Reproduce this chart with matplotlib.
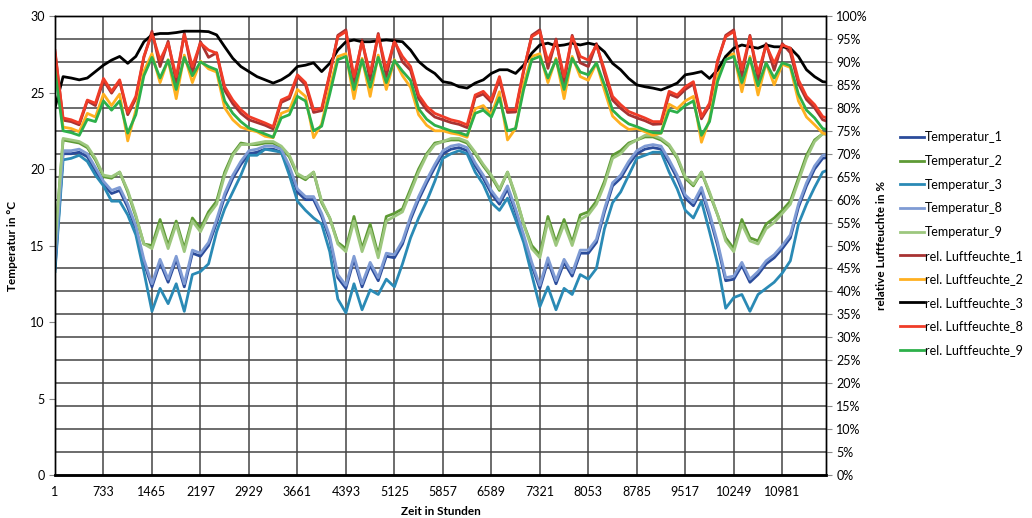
import numpy as np
import matplotlib
matplotlib.use("Agg")
import matplotlib.pyplot as plt
from matplotlib.ticker import FuncFormatter

plt.rcParams['font.family'] = ['Lato', 'DejaVu Sans']

# Zeitachse: ein Wert alle 122 Stunden
stunden = np.arange(1, 11714, 122)

# Temperaturen in °C
temp_9 = [15.0, 22.0, 21.9, 21.8, 21.5, 20.7, 19.6, 19.5, 19.8, 18.6, 17.0, 15.1, 14.8, 16.4, 14.8, 16.4, 14.6, 16.6, 15.9, 17.0, 17.7, 19.6, 20.9, 21.6,
          21.6, 21.7, 21.8, 21.8, 21.5, 20.9, 19.7, 19.4, 19.8, 17.9, 16.8, 15.1, 14.6, 16.6, 14.6, 16.1, 14.2, 16.6, 16.9, 17.2, 18.5, 19.8, 20.9, 21.6,
          21.8, 22.0, 22.0, 21.8, 21.1, 20.3, 19.6, 18.7, 19.8, 18.3, 16.4, 14.8, 14.2, 16.6, 15.0, 16.4, 15.0, 16.7, 17.0, 17.7, 19.0, 20.7, 21.0, 21.6,
          21.9, 22.2, 22.2, 22.0, 21.6, 20.8, 19.5, 19.0, 19.8, 18.5, 17.0, 15.3, 14.6, 16.4, 15.3, 15.1, 16.1, 16.5, 17.1, 17.7, 19.2, 20.7, 21.8, 22.3, 22.3]
temp_2 = [15.2, 21.9, 21.8, 21.7, 21.4, 20.6, 19.5, 19.4, 19.8, 18.5, 16.9, 15.1, 15.0, 16.7, 15.0, 16.6, 14.8, 16.8, 16.1, 17.2, 17.9, 19.8, 21.0, 21.7,
          21.6, 21.6, 21.7, 21.7, 21.4, 20.8, 19.6, 19.3, 19.8, 17.8, 16.8, 15.2, 14.8, 16.9, 14.8, 16.4, 14.4, 16.9, 17.1, 17.4, 18.7, 20.0, 21.0, 21.7,
          21.8, 21.9, 21.9, 21.7, 21.0, 20.2, 19.5, 18.6, 19.8, 18.2, 16.4, 15.0, 14.4, 16.9, 15.2, 16.7, 15.2, 17.0, 17.2, 17.9, 19.2, 20.9, 21.2, 21.7,
          21.9, 22.1, 22.1, 21.9, 21.5, 20.7, 19.4, 18.9, 19.8, 18.4, 17.0, 15.5, 14.8, 16.7, 15.5, 15.3, 16.4, 16.8, 17.3, 17.9, 19.4, 20.9, 21.9, 22.3, 22.3]
temp_8 = [14.0, 21.2, 21.2, 21.3, 21.0, 20.1, 19.2, 18.6, 18.8, 17.7, 16.3, 14.1, 12.5, 14.1, 12.8, 14.3, 12.5, 14.7, 14.5, 15.2, 16.7, 18.4, 19.6, 20.5,
          21.2, 21.3, 21.5, 21.5, 21.3, 20.2, 18.7, 18.2, 18.2, 17.1, 15.6, 13.1, 12.4, 14.3, 12.5, 13.9, 12.9, 14.5, 14.4, 15.3, 16.9, 18.2, 19.3, 20.3,
          21.2, 21.5, 21.6, 21.4, 20.4, 19.6, 18.6, 17.9, 18.9, 17.4, 15.7, 13.9, 12.4, 14.2, 12.7, 14.1, 13.2, 14.7, 14.7, 15.4, 17.4, 19.1, 19.6, 20.5,
          21.2, 21.5, 21.6, 21.5, 20.6, 19.6, 18.3, 17.8, 18.8, 17.1, 15.2, 12.9, 13.0, 13.9, 12.8, 13.3, 14.0, 14.4, 15.0, 15.7, 17.7, 19.1, 20.2, 20.9, 21.0]
temp_1 = [13.5, 21.0, 21.0, 21.1, 20.8, 19.9, 19.0, 18.4, 18.6, 17.5, 16.1, 13.9, 12.3, 13.9, 12.6, 14.1, 12.3, 14.5, 14.3, 15.0, 16.5, 18.2, 19.4, 20.3,
          21.0, 21.1, 21.3, 21.3, 21.1, 20.0, 18.5, 18.0, 18.0, 16.9, 15.4, 12.9, 12.2, 14.1, 12.3, 13.7, 12.7, 14.3, 14.2, 15.1, 16.7, 18.0, 19.1, 20.1,
          21.0, 21.3, 21.4, 21.2, 20.2, 19.4, 18.4, 17.7, 18.7, 17.2, 15.5, 13.7, 12.2, 14.0, 12.5, 13.9, 13.0, 14.5, 14.5, 15.2, 17.2, 18.9, 19.4, 20.3,
          21.0, 21.3, 21.4, 21.3, 20.4, 19.4, 18.1, 17.6, 18.6, 16.9, 15.0, 12.7, 12.8, 13.7, 12.6, 13.1, 13.8, 14.2, 14.8, 15.5, 17.5, 18.9, 20.0, 20.7, 20.8]
temp_3 = [13.3, 20.6, 20.7, 20.9, 20.5, 19.6, 18.9, 17.9, 17.9, 17.0, 15.7, 13.3, 10.7, 12.2, 11.2, 12.5, 10.7, 13.1, 13.3, 13.8, 15.9, 17.4, 18.5, 19.6,
          20.9, 20.9, 21.3, 21.2, 21.1, 19.6, 17.9, 17.3, 16.8, 16.4, 14.6, 11.5, 10.6, 12.5, 10.8, 12.1, 11.8, 12.8, 12.3, 13.8, 15.5, 16.8, 17.9, 19.2,
          20.7, 21.0, 21.2, 21.0, 19.8, 19.0, 17.8, 17.3, 18.1, 16.7, 15.2, 13.1, 11.0, 12.3, 10.8, 12.2, 11.8, 13.1, 12.8, 13.5, 16.1, 17.8, 18.5, 19.6,
          20.7, 20.9, 21.1, 21.1, 19.8, 18.7, 17.3, 16.8, 17.9, 15.9, 13.8, 10.9, 11.6, 11.8, 10.7, 11.8, 12.2, 12.6, 13.2, 14.0, 16.4, 17.7, 18.8, 19.8, 20.0]

# relative Luftfeuchte in %
rf_8 = [92.0, 77.8, 77.4, 76.7, 81.7, 81.0, 86.4, 83.6, 86.1, 79.0, 82.5, 91.2, 96.2, 90.4, 94.1, 86.8, 95.9, 89.0, 94.1, 92.6, 91.9, 84.6, 81.7, 79.6,
        78.1, 77.4, 76.7, 75.9, 81.7, 82.5, 87.2, 85.5, 79.6, 79.9, 87.5, 95.5, 96.6, 86.8, 94.4, 87.5, 95.9, 88.3, 94.4, 91.2, 89.0, 82.8, 80.3, 78.8,
        78.1, 77.4, 77.0, 76.3, 82.8, 83.6, 81.7, 86.8, 79.6, 79.6, 88.3, 95.5, 96.6, 90.1, 94.6, 86.8, 95.5, 91.2, 90.4, 93.7, 88.3, 82.5, 80.7, 79.2,
        78.5, 77.8, 77.0, 77.0, 83.6, 82.8, 84.6, 85.7, 78.1, 81.0, 90.4, 95.5, 96.6, 88.3, 95.5, 87.5, 93.7, 89.7, 93.7, 93.0, 86.1, 82.5, 80.7, 78.1, 77.5]
rf_1 = [92.5, 77.3, 77.0, 76.3, 81.5, 80.5, 86.0, 83.2, 85.8, 78.5, 82.0, 91.0, 96.7, 89.0, 94.5, 85.5, 96.3, 87.5, 94.4, 91.0, 92.0, 83.8, 80.9, 78.8,
        77.4, 76.8, 76.2, 75.4, 81.2, 82.0, 86.8, 85.0, 79.0, 79.4, 87.2, 95.8, 97.0, 85.3, 94.8, 86.0, 96.2, 86.8, 94.8, 90.0, 88.2, 82.0, 79.5, 78.0,
        77.4, 76.8, 76.4, 75.7, 82.3, 83.0, 81.2, 86.3, 79.0, 79.1, 88.0, 95.8, 97.0, 88.6, 95.0, 85.3, 95.8, 89.8, 89.0, 94.0, 87.5, 81.7, 79.9, 78.5,
        77.8, 77.2, 76.4, 76.5, 83.0, 82.3, 84.0, 85.2, 77.6, 80.5, 90.0, 95.8, 97.0, 86.8, 95.8, 86.0, 94.0, 88.2, 94.0, 92.0, 85.3, 81.8, 80.0, 77.4, 76.8]
rf_9 = [88.0, 75.0, 74.6, 74.0, 77.5, 77.0, 81.5, 79.5, 81.5, 74.5, 78.5, 87.0, 91.0, 86.5, 90.4, 84.0, 91.0, 87.0, 90.0, 89.0, 88.3, 81.5, 78.8, 77.0,
        75.6, 75.0, 74.3, 73.6, 77.8, 78.5, 82.5, 81.5, 75.0, 76.0, 83.0, 90.5, 91.2, 84.0, 90.5, 84.5, 91.0, 85.5, 90.3, 88.0, 86.0, 79.8, 77.5, 76.2,
        75.6, 75.0, 74.6, 74.0, 78.8, 79.5, 78.0, 82.2, 75.0, 75.5, 84.0, 90.5, 91.2, 86.5, 90.5, 84.0, 90.8, 87.8, 87.2, 89.8, 85.0, 79.5, 77.8, 76.5,
        75.9, 75.2, 74.6, 74.5, 79.5, 79.0, 80.5, 81.5, 74.0, 77.0, 85.8, 90.5, 91.2, 85.5, 90.8, 84.8, 89.8, 86.5, 89.8, 89.2, 83.0, 79.5, 77.8, 75.5, 75.0]
rf_2 = [89.0, 75.8, 75.5, 74.8, 78.8, 78.0, 83.0, 80.5, 83.0, 72.8, 79.5, 88.0, 91.8, 85.5, 90.5, 82.0, 91.5, 85.5, 90.2, 88.5, 87.8, 80.0, 77.4, 75.8,
        75.2, 74.8, 73.8, 73.5, 78.8, 79.5, 84.0, 82.5, 73.5, 76.5, 84.5, 91.2, 91.8, 82.0, 90.8, 82.5, 91.5, 84.0, 90.5, 87.0, 84.5, 78.5, 76.2, 75.0,
        75.0, 74.5, 74.2, 73.6, 79.8, 80.5, 78.5, 83.5, 73.0, 75.5, 85.2, 91.2, 91.8, 85.5, 90.8, 82.0, 91.2, 86.8, 86.0, 89.8, 83.8, 78.2, 76.5, 75.3,
        75.5, 74.8, 74.0, 74.5, 80.8, 79.8, 81.5, 82.5, 72.5, 77.5, 87.0, 91.2, 91.8, 83.5, 91.2, 82.8, 89.8, 85.0, 89.5, 88.8, 81.5, 78.0, 76.3, 74.5, 74.0]
rf_3 = [80.0, 86.8, 86.5, 86.1, 86.5, 87.9, 89.3, 90.4, 91.2, 89.7, 91.2, 94.4, 95.9, 96.2, 96.2, 96.4, 96.7, 96.7, 96.7, 96.6, 95.9, 93.3, 90.8, 89.0,
        87.9, 86.8, 86.1, 85.4, 86.1, 87.2, 89.0, 89.3, 89.8, 87.9, 89.7, 92.6, 94.4, 94.8, 94.4, 94.4, 94.6, 94.8, 94.6, 94.4, 92.6, 90.1, 88.6, 87.5,
        85.7, 85.4, 84.6, 84.3, 85.4, 86.1, 87.5, 88.3, 88.3, 87.5, 89.3, 91.9, 93.7, 94.1, 93.5, 93.7, 94.1, 93.7, 94.1, 93.7, 92.2, 89.7, 88.3, 86.4,
        85.0, 84.6, 84.3, 83.9, 84.6, 85.4, 87.2, 87.5, 87.9, 86.4, 88.3, 91.2, 93.0, 93.7, 93.3, 93.0, 93.7, 93.3, 93.3, 93.0, 91.2, 88.3, 86.8, 85.7, 85.5]

x_ticks = np.arange(1, 11000, 732)

#setup
fig = plt.figure(figsize=(10.32, 5.18), dpi=100)
ax = fig.add_axes([0.0533, 0.083, 0.747, 0.886])
ax2 = ax.twinx()

lw = 2.0
l1, = ax.plot(stunden, temp_1, c="#2B4C9B", lw=lw, label="Temperatur_1")
l2, = ax.plot(stunden, temp_2, c="#5E9A35", lw=lw, label="Temperatur_2")
l3, = ax.plot(stunden, temp_3, c="#2A8AB5", lw=lw, label="Temperatur_3")
l4, = ax.plot(stunden, temp_8, c="#7F9BD4", lw=lw, label="Temperatur_8")
l5, = ax.plot(stunden, temp_9, c="#9DC77E", lw=lw, label="Temperatur_9")

l6, = ax2.plot(stunden, rf_1, c="#A83232", lw=lw, label="rel. Luftfeuchte_1")
l7, = ax2.plot(stunden, rf_2, c="#FFB020", lw=lw, label="rel. Luftfeuchte_2")
l8, = ax2.plot(stunden, rf_3, c="#000000", lw=lw, label="rel. Luftfeuchte_3")
l9, = ax2.plot(stunden, rf_8, c="#F03C28", lw=lw, label="rel. Luftfeuchte_8")
l10, = ax2.plot(stunden, rf_9, c="#2DB04A", lw=lw, label="rel. Luftfeuchte_9")

#Achsen
ax.set_xlim(1, 11640)
ax.set_ylim(0, 30)
ax2.set_ylim(0, 100)
ax.set_xticks(x_ticks, [str(t) for t in x_ticks])
ax.set_yticks(range(0, 31, 5))
ax.set_yticks(np.arange(0, 30.1, 1.5), minor=True)
ax2.set_yticks(range(0, 101, 5))
ax2.yaxis.set_major_formatter(FuncFormatter(lambda v, p: "%d%%" % v))

# Gitter (horizontal alle 5 %)
ax.set_axisbelow(True)
ax.grid(which="minor", axis="y", color="#444444", lw=1.1)
ax.grid(which="major", axis="x", color="#444444", lw=1.1)
ax.tick_params(which="minor", length=0)
ax.tick_params(axis="x", length=0, labelsize=9, pad=8)
ax.tick_params(axis="y", length=4, labelsize=9, color="#888888")
ax2.tick_params(axis="y", length=4, labelsize=9, color="#888888")

for s in ["top", "left", "right"]:
    ax.spines[s].set_linewidth(1.0)
    ax2.spines[s].set_linewidth(1.0)
ax.spines["bottom"].set_linewidth(1.8)
ax2.spines["bottom"].set_linewidth(1.8)

ax.set_xlabel("Zeit in Stunden", fontsize=8.5, fontweight="bold", labelpad=6)
ax.set_ylabel("Temperatur in °C", fontsize=8.5, fontweight="bold", labelpad=9)
ax2.set_ylabel("relative Luftfeuchte in %", fontsize=8.5, fontweight="bold", labelpad=6)

handles = [l1, l2, l3, l4, l5, l6, l7, l8, l9, l10]
fig.legend(handles, [h.get_label() for h in handles], loc="upper left",
           bbox_to_anchor=(0.861, 0.768), frameon=False, fontsize=9,
           handlelength=1.9, handletextpad=0.1, labelspacing=0.93)

fig.savefig("out.png", dpi=100)
